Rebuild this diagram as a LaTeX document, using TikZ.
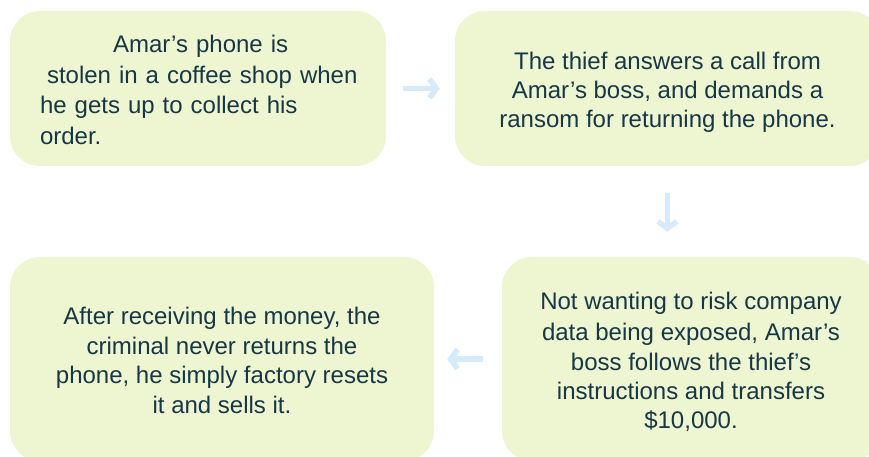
\documentclass[tikz,border=0pt]{standalone}
\usepackage{fontspec}
\setmainfont{Liberation Sans}
\usetikzlibrary{arrows.meta}
\definecolor{boxfill}{HTML}{EEF5D1}
\definecolor{inktext}{HTML}{163746}
\definecolor{flowblue}{HTML}{D5EAFB}
% uniform line box: 29pt per line, 24.5pt above the baseline
\newcommand{\lnstrut}{\rule[-4.5pt]{0pt}{29pt}}
\begin{document}
\begin{tikzpicture}[x=1pt,y=-1pt,
  card/.style={fill=boxfill, rounded corners=30pt, inner sep=0pt,
    text=inktext, font=\fontsize{24}{29}\selectfont, align=center},
  flow/.style={draw=flowblue, line width=5.5pt,
    -{Straight Barb[length=7pt,width=19pt]}}]
\useasboundingbox (0,0) rectangle (869,457);
\clip (0,0) rectangle (869,457);

\node[card, minimum width=376pt, minimum height=155pt,
      text width=316pt, align=left] (b1) at (198,88.5)
  {\mbox{\hspace*{73pt}Amar’s phone is}\lnstrut\\
   \mbox{\hspace*{7pt}stolen in a coffee shop when}\lnstrut\\
   \mbox{he gets up to collect his}\lnstrut\\
   order.\lnstrut};

\node[card, minimum width=425pt, minimum height=155pt] (b2) at (667.5,88.5)
  {The thief answers a call from\lnstrut\\
   Amar’s boss, and demands a\lnstrut\\
   ransom for returning the phone.\lnstrut};

\node[card, minimum width=424pt, minimum height=204pt] (b3) at (222,359)
  {After receiving the money, the\lnstrut\\
   criminal never returns the\lnstrut\\
   phone, he simply factory resets\lnstrut\\
   it and sells it.\lnstrut};

\node[card, minimum width=378pt, minimum height=204pt] (b4) at (691,359)
  {Not wanting to risk company\lnstrut\\
   data being exposed, Amar’s\lnstrut\\
   boss follows the thief’s\lnstrut\\
   instructions and transfers\lnstrut\\
   \$10,000.\lnstrut};

\draw[flow, shorten <=17pt, shorten >=15pt] (b1.east) -- (b2.west);
\draw[flow, shorten <=27pt, shorten >=25pt] (b2.south) -- (b2.south |- b4.north);
\draw[flow, shorten <=19pt, shorten >=13pt] (b4.west) -- (b3.east);
\end{tikzpicture}
\end{document}
